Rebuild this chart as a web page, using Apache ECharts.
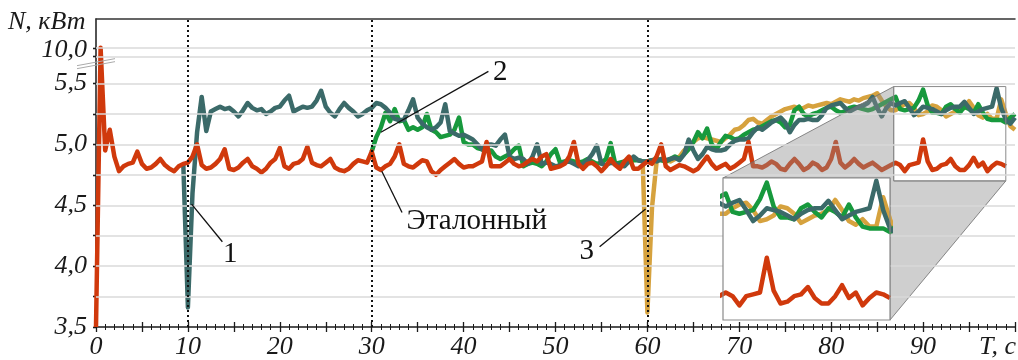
<!DOCTYPE html>
<html>
<head>
<meta charset="utf-8">
<script src="https://cdn.jsdelivr.net/npm/echarts@6/dist/echarts.min.js"></script>
<style>
  html, body { margin: 0; padding: 0; background: #fff; }
  #chart { width: 1018px; height: 360px; }
</style>
</head>
<body>
<div id="chart"></div>
<script>
// sampling step, s, and the time each curve starts at
const STEP = 0.5;
const RED_START = 0, TEAL_START = 9.5, GREEN_START = 30, GOLD_START = 59.5;

// Эталонный (reference), kW, every 0.5 s from 0 to 99 s
const red = [
  3.5, 10.1, 4.95, 5.12, 4.90, 4.78, 4.82, 4.84, 4.85, 4.94,
  4.84, 4.80, 4.81, 4.84, 4.88, 4.83, 4.80, 4.78, 4.82, 4.84,
  4.85, 4.90, 5.00, 4.83, 4.80, 4.81, 4.84, 4.88, 4.96, 4.80,
  4.79, 4.81, 4.85, 4.88, 4.82, 4.80, 4.77, 4.80, 4.85, 4.88,
  4.97, 4.82, 4.80, 4.84, 4.85, 4.88, 4.98, 4.85, 4.83, 4.82,
  4.85, 4.88, 4.81, 4.79, 4.78, 4.80, 4.84, 4.87, 4.86, 4.85,
  4.94, 4.81, 4.79, 4.82, 4.84, 4.90, 5.00, 4.84, 4.82, 4.81,
  4.84, 4.87, 4.86, 4.78, 4.75, 4.79, 4.82, 4.85, 4.88, 4.84,
  4.81, 4.82, 4.82, 4.84, 4.86, 5.02, 4.82, 4.82, 4.82, 4.85,
  4.88, 4.84, 4.82, 4.83, 4.86, 4.88, 4.86, 4.90, 4.92, 4.80,
  4.81, 4.82, 4.84, 4.90, 5.02, 4.84, 4.80, 4.84, 4.85, 4.82,
  4.78, 4.82, 4.88, 4.83, 4.80, 4.86, 4.90, 4.80, 4.80, 4.83,
  4.86, 4.84, 4.90, 5.00, 4.82, 4.79, 4.81, 4.83, 4.82, 4.80,
  4.78, 4.80, 4.85, 4.90, 4.84, 4.80, 4.82, 4.84, 4.80, 4.82,
  4.85, 4.88, 5.02, 4.82, 4.82, 4.81, 4.83, 4.86, 4.84, 4.80,
  4.79, 4.84, 4.88, 4.84, 4.79, 4.81, 4.85, 4.83, 4.79, 4.81,
  4.88, 5.02, 4.85, 4.81, 4.84, 4.88, 4.84, 4.81, 4.83, 4.85,
  4.82, 4.79, 4.81, 4.83, 4.85, 4.83, 4.78, 4.83, 4.84, 4.85,
  5.04, 4.86, 4.79, 4.80, 4.83, 4.84, 4.88, 4.82, 4.79, 4.79,
  4.83, 4.89, 4.82, 4.85, 4.78, 4.82, 4.85, 4.84, 4.82
];

// curve 1 (dark teal), from 9.5 s
const teal = [
  4.84,
  3.66, 4.60, 5.10, 5.39, 5.11, 5.27, 5.29, 5.31, 5.29, 5.30,
  5.27, 5.23, 5.28, 5.34, 5.30, 5.28, 5.29, 5.25, 5.27, 5.30,
  5.31, 5.36, 5.40, 5.27, 5.29, 5.31, 5.30, 5.31, 5.36, 5.44,
  5.31, 5.26, 5.23, 5.29, 5.34, 5.30, 5.27, 5.23, 5.25, 5.28,
  5.30, 5.34, 5.33, 5.30, 5.26, 5.21, 5.20, 5.20, 5.28, 5.37,
  5.22, 5.17, 5.14, 5.12, 5.14, 5.18, 5.33, 5.11, 5.09, 5.07,
  5.08, 5.06, 5.04, 5.00, 4.96, 5.00, 5.00, 4.99, 5.04, 5.08,
  4.90, 4.88, 4.89, 4.88, 4.84, 4.90, 5.00, 4.84, 4.85, 4.84,
  4.82, 4.83, 4.85, 4.86, 4.84, 4.82, 4.84, 4.87, 4.92, 4.99,
  4.84, 4.83, 4.85, 4.84, 4.83, 4.82, 4.86, 4.90, 4.87, 4.86,
  4.86, 4.87, 4.86, 4.88, 4.87, 4.88, 4.89, 4.87, 4.92, 5.04,
  4.95, 4.88, 4.92, 4.98, 4.96, 4.95, 4.95, 4.96, 5.00, 5.03,
  5.04, 5.04, 5.05, 5.10, 5.14, 5.12, 5.15, 5.18, 5.20, 5.22,
  5.18, 5.10, 5.16, 5.20, 5.20, 5.21, 5.20, 5.20, 5.24, 5.30,
  5.32, 5.33, 5.34, 5.30, 5.27, 5.29, 5.31, 5.32, 5.34, 5.39,
  5.30, 5.23, 5.30, 5.34, 5.32, 5.34, 5.355, 5.30, 5.24, 5.27,
  5.31, 5.30, 5.29, 5.27, 5.25, 5.28, 5.30, 5.31, 5.31, 5.35,
  5.30, 5.25, 5.27, 5.29, 5.30, 5.31, 5.46, 5.30, 5.20, 5.17,
  5.22
];

// curve 2 (green), from 30 s
const green = [
  4.94, 5.06, 5.14, 5.26, 5.19, 5.29, 5.19, 5.20, 5.12, 5.14,
  5.12, 5.14, 5.25, 5.12, 5.10, 5.06, 5.07, 5.08, 5.12, 5.22,
  5.02, 5.00, 5.00, 4.97, 4.96, 4.95, 4.95, 4.90, 4.88, 4.90,
  4.92, 4.96, 4.99, 4.82, 4.84, 4.85, 4.84, 4.82, 4.86, 4.92,
  4.96, 4.85, 4.86, 4.87, 4.86, 4.85, 4.86, 4.88, 4.86, 4.84,
  4.85, 4.88, 5.01, 4.84, 4.85, 4.86, 4.86, 4.87, 4.87, 4.86,
  4.86, 4.87, 4.88, 4.87, 4.86, 4.88, 4.90, 4.88, 4.92, 4.96,
  5.02, 5.10, 5.05, 5.13, 5.00, 4.96, 5.02, 5.07, 5.06, 5.04,
  5.05, 5.08, 5.10, 5.12, 5.13, 5.15, 5.17, 5.19, 5.20, 5.18,
  5.14, 5.16, 5.28, 5.31, 5.25, 5.23, 5.25, 5.26, 5.28, 5.30,
  5.31, 5.28, 5.26, 5.27, 5.30, 5.31, 5.30, 5.29, 5.28, 5.29,
  5.31, 5.33, 5.35, 5.37, 5.39, 5.29, 5.28, 5.29, 5.30, 5.36,
  5.45, 5.32, 5.26, 5.26, 5.25, 5.31, 5.33, 5.29, 5.26, 5.31,
  5.29, 5.26, 5.33, 5.26, 5.21, 5.20, 5.20, 5.20, 5.18, 5.22,
  5.25
];

// curve 3 (gold), from 59.5 s
const gold = [
  4.83,
  3.62, 4.48, 4.86, 4.88, 4.87, 4.86, 4.88, 4.90, 4.95, 4.98,
  5.02, 5.05, 5.06, 5.05, 5.04, 5.03, 5.02, 5.05, 5.08, 5.12,
  5.13, 5.16, 5.20, 5.21, 5.18, 5.17, 5.20, 5.23, 5.25, 5.27,
  5.29, 5.30, 5.31, 5.29, 5.30, 5.32, 5.31, 5.32, 5.33, 5.34,
  5.33, 5.35, 5.37, 5.36, 5.35, 5.37, 5.36, 5.38, 5.39, 5.40,
  5.42, 5.36, 5.31, 5.28, 5.28, 5.31, 5.33, 5.34, 5.30, 5.24,
  5.25, 5.27, 5.32, 5.31, 5.28, 5.23, 5.25, 5.27, 5.28, 5.30,
  5.355, 5.30, 5.24, 5.22, 5.25, 5.21, 5.21, 5.37, 5.25, 5.15,
  5.12
];

// broken value axis: 10,0 is drawn just above 5,5
const BREAK_POS = 5.787;
const LABEL_10 = 5.77;
const disp = v => (v > 5.6 ? BREAK_POS + (v - 10) * 0.06 : v);
const pairs = (start, vals) => vals.map((v, i) => [start + i * STEP, disp(v)]);

const xMarks = [10, 30, 60];
const yGrid = [3.75, 4, 4.25, 4.5, 4.75, 5, 5.25, 5.5, 5.72, BREAK_POS];
const yTicks = [3.5].concat(yGrid);
const yLabels = [3.5, 4, 4.5, 5, 5.5, LABEL_10];
const zoomX = [86.8, 99.0];
const zoomY = [4.70, 5.475];
const insetGrid = [4.75, 5, 5.25];

const curves = [
  { name: '3', data: pairs(GOLD_START, gold), color: '#d6a23e' },
  { name: '2', data: pairs(GREEN_START, green), color: '#17993d' },
  { name: '1', data: pairs(TEAL_START, teal), color: '#3b6a69' },
  { name: 'Эталонный', data: pairs(RED_START, red), color: '#d0390c' },
];

// leader lines, in data units of the main grid
const notes = [
  { text: '1', from: [10.4, 4.51], to: [13.75, 4.20], at: [14.6, 4.1], align: 'center' },
  { text: 'Эталонный', from: [31.1, 4.78], to: [33.3, 4.44], at: [33.8, 4.37], align: 'left' },
  { text: '2', from: [31.0, 5.10], to: [42.7, 5.60], at: [44.0, 5.59], align: 'center' },
  { text: '3', from: [59.8, 4.47], to: [54.8, 4.16], at: [53.4, 4.12], align: 'center' },
];

const FONT = 'Liberation Serif';
const INK = '#1a1a1a';

const chart = echarts.init(document.getElementById('chart'));

const xBase = { type: 'value', gridIndex: 0, min: 0, max: 100, interval: 5, splitLine: { show: false } };
const yBase = { type: 'value', gridIndex: 0, min: 3.5, max: 6.03, splitLine: { show: false } };
const tickStyle = { color: INK, width: 1.3 };

const lineSeries = (c, xi, yi, z) => ({
  type: 'line',
  name: c.name,
  xAxisIndex: xi,
  yAxisIndex: yi,
  data: c.data,
  symbol: 'none',
  z: z,
  lineStyle: { color: c.color, width: 4.5, join: 'round' },
  itemStyle: { color: c.color },
});

const option = {
  animation: false,
  grid: [
    { left: 96, top: 19, right: 0, bottom: 32 },
    { left: 723, top: 178, width: 167, height: 142 },
  ],
  xAxis: [
    Object.assign({}, xBase, {
      position: 'bottom',
      axisLine: { lineStyle: { color: INK, width: 1.5 } },
      axisTick: { length: 5, lineStyle: tickStyle },
      minorTick: { show: true, splitNumber: 5, length: 3, lineStyle: { color: INK, width: 1 } },
      axisLabel: {
        formatter: v => (v % 10 === 0 && v < 100 ? String(v) : ''),
        fontFamily: FONT, fontStyle: 'italic', fontSize: 26, color: INK, margin: 7,
      },
    }),
    Object.assign({}, xBase, {
      position: 'bottom',
      axisLine: { show: false },
      axisTick: { inside: true, length: 5, lineStyle: tickStyle },
      minorTick: { show: true, splitNumber: 5, length: 3, lineStyle: { color: INK, width: 1 } },
      axisLabel: { show: false },
    }),
    Object.assign({}, xBase, {
      position: 'top',
      axisLine: { lineStyle: { color: '#333', width: 1.5 } },
      axisTick: { show: false },
      axisLabel: { show: false },
    }),
    { type: 'value', gridIndex: 1, min: zoomX[0], max: zoomX[1], show: false },
  ],
  yAxis: [
    Object.assign({}, yBase, {
      axisLine: { show: true, lineStyle: { color: INK, width: 1.5 } },
      axisTick: { show: true, length: 3, customValues: yTicks, lineStyle: tickStyle },
      axisLabel: {
        customValues: yLabels,
        formatter: v => (v > 5.6 ? '10,0' : v.toFixed(1).replace('.', ',')),
        fontFamily: FONT, fontStyle: 'italic', fontSize: 26, color: INK, margin: 9,
      },
    }),
    Object.assign({}, yBase, {
      axisLine: { show: false },
      axisTick: { show: true, inside: true, length: 3, customValues: yTicks, lineStyle: tickStyle },
      axisLabel: { show: false },
    }),
    { type: 'value', gridIndex: 1, min: zoomY[0], max: zoomY[1], show: false },
  ],
  series: [].concat(
    [{
      type: 'line', xAxisIndex: 0, yAxisIndex: 0, data: [], z: 1, silent: true,
      markLine: {
        silent: true, symbol: 'none', label: { show: false },
        lineStyle: { color: '#dadada', width: 1.5, type: 'solid' },
        data: yGrid.map(v => ({ yAxis: v })),
      },
    }],
    curves.map(c => lineSeries(c, 0, 0, 2)),
    [{
      type: 'line', xAxisIndex: 0, yAxisIndex: 0, data: [], z: 3, silent: true,
      markLine: {
        silent: true, symbol: 'none', label: { show: false },
        lineStyle: { color: '#111', width: 2, type: [2, 3] },
        data: xMarks.map(v => ({ xAxis: v })),
      },
    }],
    [{
      type: 'line', xAxisIndex: 3, yAxisIndex: 2, data: [], z: 6, silent: true,
      markLine: {
        silent: true, symbol: 'none', label: { show: false },
        lineStyle: { color: '#dadada', width: 1.5, type: 'solid' },
        data: insetGrid.map(v => ({ yAxis: v })),
      },
    }],
    curves.map(c => lineSeries(c, 3, 2, 7))
  ),
};

chart.setOption(option);

// overlay: zoom box, gray projection, inset frame, axis break, notes
const P = p => chart.convertToPixel({ seriesIndex: 1 }, p);
const Q = p => chart.convertToPixel({ seriesIndex: 7 }, p);
const bTL = P([zoomX[0], zoomY[1]]), bBR = P([zoomX[1], zoomY[0]]);
const iTL = Q([zoomX[0], zoomY[1]]), iBR = Q([zoomX[1], zoomY[0]]);
const brk = P([0, 5.655]);

const els = [
  {
    type: 'polygon', z: 4, silent: true,
    shape: { points: [iTL, bTL, [bTL[0], bBR[1]], bBR, iBR, [iBR[0], iTL[1]]] },
    style: { fill: 'rgba(140,140,140,0.42)', stroke: 'rgba(110,110,110,0.8)', lineWidth: 1 },
  },
  {
    type: 'rect', z: 4, silent: true,
    shape: { x: bTL[0], y: bTL[1], width: bBR[0] - bTL[0], height: bBR[1] - bTL[1] },
    style: { fill: 'none', stroke: '#8a8a8a', lineWidth: 1 },
  },
  {
    type: 'rect', z: 5, silent: true,
    shape: { x: iTL[0], y: iTL[1], width: iBR[0] - iTL[0], height: iBR[1] - iTL[1] },
    style: { fill: '#fff' },
  },
  {
    type: 'rect', z: 8, silent: true,
    shape: { x: iTL[0], y: iTL[1], width: iBR[0] - iTL[0], height: iBR[1] - iTL[1] },
    style: { fill: 'none', stroke: '#8a8a8a', lineWidth: 1.2 },
  },
  {
    type: 'line', z: 9, silent: true,
    shape: { x1: brk[0] - 19, y1: brk[1] + 4, x2: brk[0] + 19, y2: brk[1] - 3 },
    style: { stroke: '#aaa', lineWidth: 1 },
  },
  {
    type: 'line', z: 9, silent: true,
    shape: { x1: brk[0] - 19, y1: brk[1] + 1, x2: brk[0] + 19, y2: brk[1] - 6 },
    style: { stroke: '#aaa', lineWidth: 1 },
  },
  {
    type: 'text', z: 9, silent: true, x: 8, y: 22,
    style: { text: 'N, кВт', font: 'italic 26px "Liberation Serif"', fill: INK,
             align: 'left', verticalAlign: 'middle', textAlign: 'left', textVerticalAlign: 'middle' },
  },
  {
    type: 'text', z: 9, silent: true, x: 1016, y: 347,
    style: { text: 'T, c', font: 'italic 26px "Liberation Serif"', fill: INK,
             align: 'right', verticalAlign: 'middle', textAlign: 'right', textVerticalAlign: 'middle' },
  },
];

notes.forEach(n => {
  const a = P(n.from), b = P(n.to), t = P(n.at);
  els.push({
    type: 'line', z: 9, silent: true,
    shape: { x1: a[0], y1: a[1], x2: b[0], y2: b[1] },
    style: { stroke: '#111', lineWidth: 1.3 },
  });
  els.push({
    type: 'text', z: 9, silent: true, x: t[0], y: t[1],
    style: { text: n.text, font: '29px "Liberation Serif"', fill: '#111',
             align: n.align, verticalAlign: 'middle', textAlign: n.align, textVerticalAlign: 'middle' },
  });
});

chart.setOption({ graphic: { elements: els } });
window.addEventListener('resize', () => chart.resize());
</script>
</body>
</html>
